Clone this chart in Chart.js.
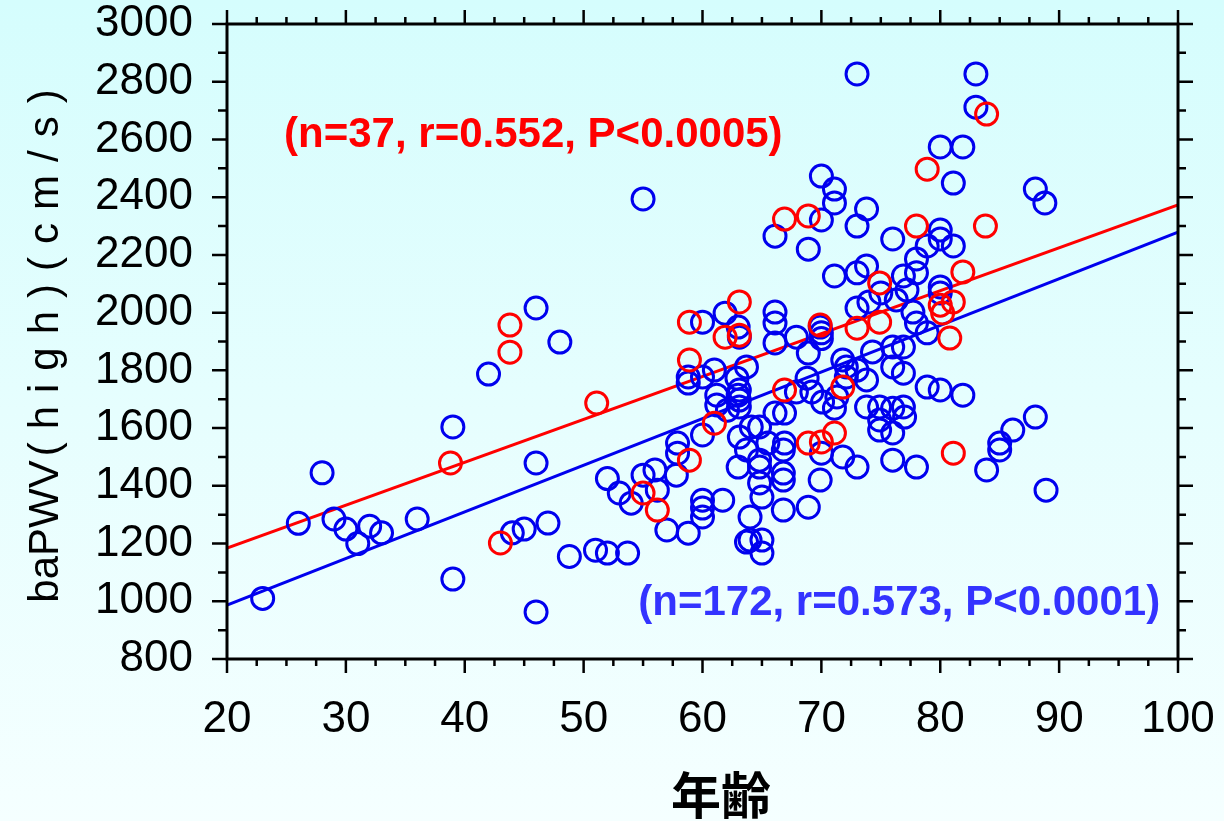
<!DOCTYPE html>
<html>
<head>
<meta charset="utf-8">
<script src="https://cdn.jsdelivr.net/npm/chart.js@4.4.1/dist/chart.umd.min.js"></script>
<style>
  html, body { margin: 0; padding: 0; }
  body {
    width: 1224px; height: 821px; overflow: hidden;
    background: linear-gradient(to bottom, #d5fdfd 0%, #e6fefe 50%, #f5ffff 100%);
  }
  #wrap { width: 1224px; height: 821px; }
</style>
</head>
<body>
<div id="wrap"><canvas id="pwvChart" width="1224" height="821"></canvas></div>
<script>
  // age (years), baPWV high side (cm/s)
  var bluePoints = [
    [23,1010],[26,1270],[28,1445],[29,1285],[30,1250],[31,1200],[32,1260],[33,1237],[36,1285],
    [39,1604],[39,1077],[42,1787],[44,1237],[45,1250],[46,2016],[46,1479],[46,963],[47,1271],
    [48,1898],[48.8,1155],[51,1177],[52,1167],[52,1425],[53,1375],[54,1340],[53.7,1167],
    [55,1437],[55,2394],[56,1455],[56.2,1385],[57,1247],[57.8,1437],[57.9,1548],[57.9,1513],
    [58.8,1777],[58.8,1756],[58.8,1236],[60,1777],[60,1967],[60,1576],[60,1350],[60,1323],
    [60,1292],[61,1801],[61.2,1714],[61.2,1680],[61.7,1350],[61.9,1998],[62.1,1662],[63,1950],
    [63.1,1915],[62.9,1773],[63,1714],[63.1,1673],[63.1,1569],[63,1465],[63.7,1812],[64.1,1604],
    [63.7,1524],[64.8,1489],[64.8,1465],[64.8,1410],[65,1361],[64,1292],[64,1212],[65,1212],
    [65,1167],[63.7,1205],[64.8,1604],[63.1,1732],[63.1,1697],[66.1,2265],[66.1,2002],
    [66.1,1964],[66.1,1895],[66.1,1652],[66.9,1652],[66.9,1548],[65.5,1548],[66.8,1524],
    [66.8,1444],[66.8,1420],[66.8,1316],[67.9,1915],[67.9,1725],[68.9,2220],[68.9,1860],
    [68.8,1773],[69.2,1725],[68.9,1326],[70,2473],[70,2321],[69.9,1950],[70,1930],[70,1910],
    [70.1,1690],[70,1513],[69.9,1420],[71.1,2428],[71.1,2380],[71.1,2127],[71.3,1708],
    [71.1,1669],[71.8,1836],[72.1,1812],[72.1,1777],[71.8,1500],[73,2827],[73,2300],[73,2138],
    [73,2016],[73,1801],[73,1465],[73.8,2359],[73.8,2162],[74,2037],[74.3,1864],[73.8,1767],
    [73.8,1673],[75,2068],[74.9,1673],[74.9,1628],[74.9,1593],[76.3,2044],[76,2255],[76,1881],
    [76,1812],[76,1669],[76,1583],[76,1489],[76.9,1881],[76.9,1790],[76.9,1673],[77,1638],
    [77.2,2078],[76.9,2127],[77.7,2002],[78,2186],[78,2138],[78,1964],[78,1465],[78.9,2231],
    [78.9,1930],[78.9,1742],[80,2574],[80,2286],[80,2255],[80,2068],[80,2089],[80,1732],
    [81.1,2449],[81.1,2231],[81.9,2574],[81.9,1714],[83,2827],[83,2712],[83.9,1455],[85,1548],
    [85,1524],[86.1,1593],[88,2428],[88,1638],[88.8,2380],[88.9,1385]
  ];
  var redPoints = [
    [38.8,1479],[43,1202],[43.8,1957],[43.8,1863],[51.1,1687],[55,1375],[56.2,1316],[58.9,1967],
    [58.9,1836],[58.9,1489],[61,1617],[61.9,1915],[63.1,1922],[63.1,2037],[66.9,2324],[66.9,1732],
    [68.9,2335],[68.9,1548],[69.9,1957],[70,1552],[71.1,1583],[71.8,1742],[73,1946],[74.9,1967],
    [74.9,2103],[78,2300],[78.9,2497],[80,2026],[80.2,1999],[81.1,2037],[80.8,1912],[81.1,1513],
    [81.9,2141],[83.8,2300],[83.9,2688]
  ];
  // regression lines, ends at age 20 and 100
  var fitAge = [20, 100];
  var redFit = [1184, 2373];
  var blueFit = [987, 2279];

  var redNote = '(n=37, r=0.552, P<0.0005)';
  var blueNote = '(n=172, r=0.573, P<0.0001)';

  function toXY(list) {
    return list.map(function (p) { return { x: p[0], y: p[1] }; });
  }
  function fitXY(ys) {
    return fitAge.map(function (a, i) { return { x: a, y: ys[i] }; });
  }

  // frame with outward ticks on all four sides + titles and notes
  var framePlugin = {
    id: 'frame',
    afterDraw: function (chart) {
      var ctx = chart.ctx, a = chart.chartArea;
      var xs = chart.scales.x, ys = chart.scales.y;
      ctx.save();
      ctx.strokeStyle = '#000';
      ctx.lineWidth = 2.5;
      ctx.beginPath();
      for (var v = 20; v <= 100; v += 2.5) {
        var px = xs.getPixelForValue(v);
        var major = v % 10 === 0;
        ctx.moveTo(px, a.bottom); ctx.lineTo(px, a.bottom + (major ? 14 : 7));
        ctx.moveTo(px, a.top); ctx.lineTo(px, a.top - (major ? 14 : 7));
      }
      for (var w = 800; w <= 3000; w += 100) {
        var py = ys.getPixelForValue(w);
        var maj = w % 200 === 0;
        ctx.moveTo(a.left, py); ctx.lineTo(a.left - (maj ? 15 : 9), py);
        ctx.moveTo(a.right, py); ctx.lineTo(a.right + (maj ? 15 : 8), py);
      }
      ctx.stroke();
      ctx.lineWidth = 3;
      ctx.strokeRect(a.left, a.top, a.right - a.left, a.bottom - a.top);

      // notes
      ctx.font = 'bold 42px "Liberation Sans", Arial, sans-serif';
      ctx.textBaseline = 'middle';
      ctx.fillStyle = '#ff0000';
      ctx.textAlign = 'left';
      ctx.fillText(redNote, xs.getPixelForValue(24.8), ys.getPixelForValue(2615));
      ctx.fillStyle = '#3333ff';
      ctx.textAlign = 'right';
      ctx.fillText(blueNote, xs.getPixelForValue(98.5), ys.getPixelForValue(994));

      // x title
      ctx.fillStyle = '#000';
      ctx.textAlign = 'center';
      ctx.font = 'bold 50px "Noto Sans CJK JP", sans-serif';
      ctx.fillText('年齢', 721, 795);

      // y title, spaced-out second part
      ctx.translate(58, (a.top + a.bottom) / 2);
      ctx.rotate(-Math.PI / 2);
      ctx.font = '42px "Liberation Sans", Arial, sans-serif';
      ctx.textAlign = 'left';
      ctx.textBaseline = 'alphabetic';
      var p1 = 'baPWV', p2 = '(high)(cm/s)';
      ctx.letterSpacing = '0px';
      var w1 = ctx.measureText(p1).width;
      ctx.letterSpacing = '13px';
      var w2 = ctx.measureText(p2).width;
      var x0 = -(w1 + w2) / 2;
      ctx.letterSpacing = '0px';
      ctx.fillText(p1, x0, 0);
      ctx.letterSpacing = '13px';
      ctx.fillText(p2, x0 + w1 + 4, 0);
      ctx.restore();
    }
  };

  var tickFont = { family: '"Liberation Sans", Arial, sans-serif', size: 44 };

  // labels may overhang; keep the plot box where the layout padding puts it
  function noOverhang(s) {
    s.paddingLeft = 0; s.paddingRight = 0; s.paddingTop = 0; s.paddingBottom = 0;
  }

  var pwvChart = new Chart(document.getElementById('pwvChart'), {
    type: 'scatter',
    data: {
      datasets: [
        {
          label: 'red',
          data: toXY(redPoints),
          borderColor: '#ff0000',
          backgroundColor: 'rgba(0,0,0,0)',
          pointRadius: 11,
          pointBorderWidth: 3,
          order: 1
        },
        {
          label: 'blue',
          data: toXY(bluePoints),
          borderColor: '#0000ee',
          backgroundColor: 'rgba(0,0,0,0)',
          pointRadius: 11,
          pointBorderWidth: 3,
          order: 2
        },
        {
          type: 'line',
          label: 'red fit',
          data: fitXY(redFit),
          borderColor: '#ff0000',
          borderWidth: 3,
          pointRadius: 0,
          order: 3
        },
        {
          type: 'line',
          label: 'blue fit',
          data: fitXY(blueFit),
          borderColor: '#0000ee',
          borderWidth: 3,
          pointRadius: 0,
          order: 4
        }
      ]
    },
    options: {
      responsive: false,
      animation: false,
      events: [],
      layout: { padding: { top: 24, right: 46, left: 0, bottom: 0 } },
      plugins: {
        legend: { display: false },
        tooltip: { enabled: false }
      },
      scales: {
        x: {
          type: 'linear',
          min: 20,
          max: 100,
          grid: { display: false, drawTicks: false },
          border: { display: false },
          ticks: { stepSize: 10, color: '#000', font: tickFont, padding: 34,
                   callback: function (v) { return String(v); } },
          afterFit: function (s) { s.height = 162; noOverhang(s); }
        },
        y: {
          type: 'linear',
          min: 800,
          max: 3000,
          grid: { display: false, drawTicks: false },
          border: { display: false },
          ticks: { stepSize: 200, color: '#000', font: tickFont, padding: 34,
                   callback: function (v) { return String(v); } },
          afterFit: function (s) { s.width = 227; noOverhang(s); }
        }
      }
    },
    plugins: [framePlugin]
  });
</script>
</body>
</html>
